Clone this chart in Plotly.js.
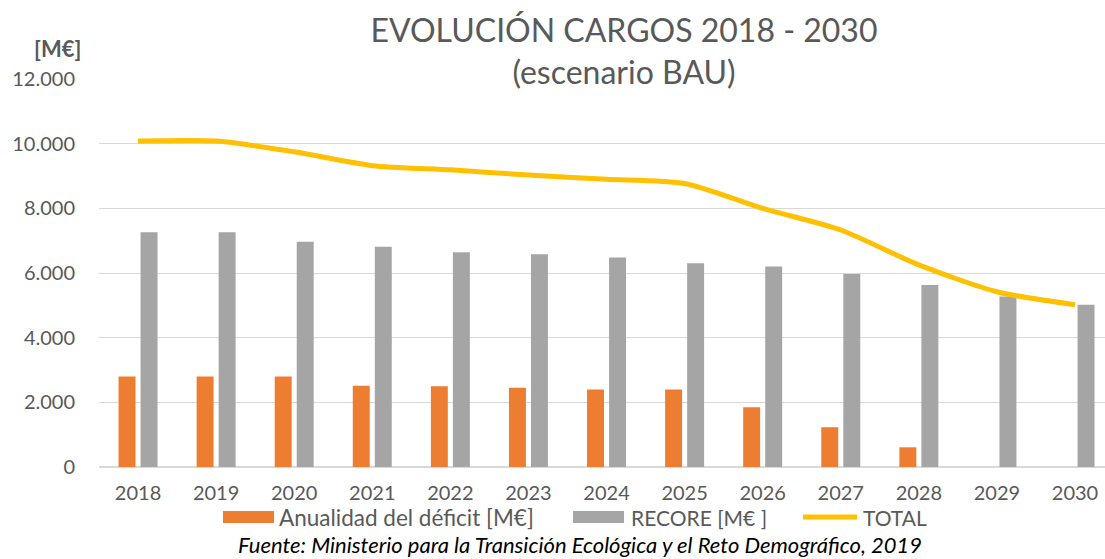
<!DOCTYPE html>
<html>
<head>
<meta charset="utf-8">
<script src="https://cdn.plot.ly/plotly-3.0.1.min.js"></script>
<style>html,body{margin:0;padding:0;background:#fff;}#chart{width:1105px;height:559px;}</style>
</head>
<body>
<div id="chart"></div>
<script>
const years = ['2018','2019','2020','2021','2022','2023','2024','2025','2026','2027','2028','2029','2030'];
const deficit = [2800, 2800, 2800, 2510, 2500, 2450, 2400, 2400, 1850, 1230, 610, 0, 0];
const recore = [7260, 7260, 6970, 6810, 6640, 6580, 6480, 6300, 6200, 5970, 5630, 5270, 5020];
const total = [10080, 10080, 9750, 9320, 9190, 9030, 8900, 8770, 8000, 7330, 6250, 5420, 5020];
const yTicks = [0, 2000, 4000, 6000, 8000, 10000, 12000];
const seriesNames = ['Anualidad del déficit [M€]', 'RECORE [M€ ]', 'TOTAL'];

const FONT = 'Lato, "Open Sans", sans-serif';
const GREY = '#595959';
const L = 99, T = 79, W = 1006, H = 388;
const px = x => (x - L) / W;
const py = y => (T + H - y) / H;

const traces = [
  {type:'bar', x: years, y: deficit, name: seriesNames[0], marker:{color:'#ED7D31'}, showlegend:false, hoverinfo:'x+y'},
  {type:'bar', x: years, y: recore, name: seriesNames[1], marker:{color:'#A5A5A5'}, showlegend:false, hoverinfo:'x+y'},
  {type:'scatter', mode:'lines', x: years, y: total, name: seriesNames[2], line:{color:'#FFC000', width:5, shape:'spline', smoothing:0.7}, showlegend:false}
];

const layout = {
  width: 1105, height: 559,
  margin: {l: L, r: 1105 - L - W, t: T, b: 559 - T - H},
  paper_bgcolor: '#fff', plot_bgcolor: '#fff',
  separators: ',.',
  font: {family: FONT, color: GREY, size: 20},
  barmode: 'group', bargap: 0.436, bargroupgap: 0.23,
  title: {
    text: 'EVOLUCIÓN CARGOS 2018 - 2030<br>(escenario BAU)',
    font: {family: FONT, size: 32, color: GREY},
    x: 624/1105, xanchor: 'center', xref: 'container',
    y: 1 - 42/559, yanchor: 'middle', yref: 'container'
  },
  xaxis: {
    type: 'category', range: [-0.5, 12.384], showgrid: false, zeroline: false,
    showline: false, ticks: '', ticklabelstandoff: 12,
    tickfont: {family: FONT, size: 20, color: GREY}
  },
  yaxis: {
    range: [0, 12000], tickvals: yTicks, tickformat: ',d',
    showgrid: true, gridcolor: '#D9D9D9', gridwidth: 1,
    zeroline: true, zerolinecolor: '#D9D9D9', zerolinewidth: 1.5,
    showline: false, ticks: '', ticklabelstandoff: 23,
    tickfont: {family: FONT, size: 20, color: GREY}
  },
  shapes: [
    {type:'rect', xref:'paper', yref:'paper', x0: px(223), x1: px(274), y0: py(523), y1: py(511), fillcolor:'#ED7D31', line:{width:0}},
    {type:'rect', xref:'paper', yref:'paper', x0: px(573), x1: px(624), y0: py(523), y1: py(511), fillcolor:'#A5A5A5', line:{width:0}},
    {type:'line', xref:'paper', yref:'paper', x0: px(803), x1: px(857), y0: py(517), y1: py(517), line:{color:'#FFC000', width:5}}
  ],
  annotations: [
    {text:'<b>[M€]</b>', xref:'paper', yref:'paper', x: px(57), y: py(48), xanchor:'center', yanchor:'middle', showarrow:false, font:{family: FONT, size: 22, color: GREY}},
    {text: seriesNames[0], xref:'paper', yref:'paper', x: px(277), y: py(517), xanchor:'left', yanchor:'middle', showarrow:false, font:{family: FONT, size: 22.5, color: GREY}},
    {text: seriesNames[1], xref:'paper', yref:'paper', x: px(629), y: py(517), xanchor:'left', yanchor:'middle', showarrow:false, font:{family: FONT, size: 21, color: GREY}},
    {text: seriesNames[2], xref:'paper', yref:'paper', x: px(861), y: py(517), xanchor:'left', yanchor:'middle', showarrow:false, font:{family: FONT, size: 21, color: GREY}},
    {text:'<i>Fuente: Ministerio para la Transición Ecológica y el Reto Demográfico, 2019</i>', xref:'paper', yref:'paper', x: px(580), y: py(544), xanchor:'center', yanchor:'middle', showarrow:false, font:{family: FONT, size: 22, color: '#000'}}
  ]
};

Plotly.newPlot('chart', traces, layout, {displayModeBar: false, staticPlot: true});
</script>
</body>
</html>
